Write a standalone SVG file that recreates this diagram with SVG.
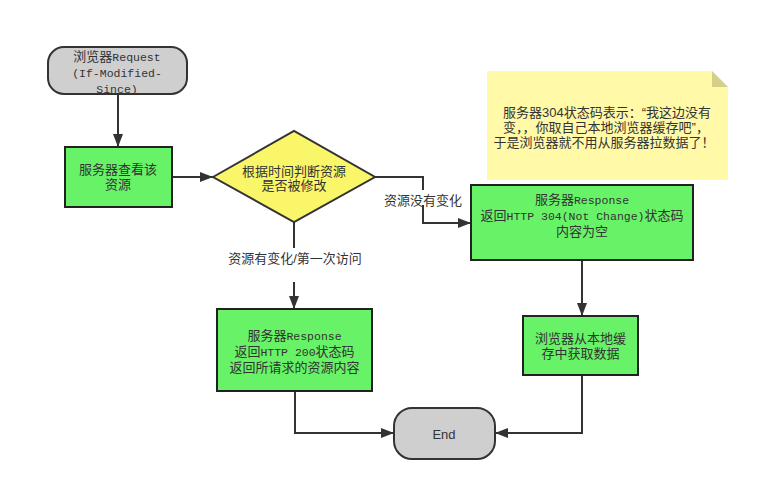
<svg xmlns="http://www.w3.org/2000/svg" width="761" height="490" viewBox="0 0 761 490">
<defs>
<marker id="arr" markerUnits="userSpaceOnUse" markerWidth="14" markerHeight="12" refX="13" refY="5" orient="auto">
<path d="M0,0 L13,5 L0,10 z" fill="#333"/>
</marker>
<style>
.ln{fill:none;stroke:#333;stroke-width:2;}
.box{fill:#68F268;stroke:#222;stroke-width:2;}
.term{fill:#CFCFCF;stroke:#333;stroke-width:2;}
.dia{fill:#FAF66A;stroke:#333;stroke-width:2;}
.st{font-family:"Liberation Mono","Noto Sans CJK SC",monospace;font-size:13px;fill:#333;text-anchor:middle;}
.st .l{font-size:11.5px;}
.sa{font-family:"Liberation Sans","Noto Sans CJK SC",sans-serif;font-size:13px;fill:#333;text-anchor:middle;}
.bg{fill:#fff;}
</style>
</defs>
<rect width="761" height="490" fill="#fff"/>
<g id="note">
<path d="M487,71 L712,71 L728,87 L728,180 L487,180 z" fill="#FFF9A8"/>
<path d="M712,71 L728,87 L712,87 z" fill="#D6CF8C"/>
<text class="sa" x="607" y="116.5">服务器304状态码表示：“我这边没有</text>
<text class="sa" x="606" y="131.5">变，，你取自己本地浏览器缓存吧”，</text>
<text class="sa" x="604" y="146.5">于是浏览器就不用从服务器拉数据了！</text>
</g>
<g id="connectors">
<path class="ln" d="M118,95 L118,147" marker-end="url(#arr)"/>
<path class="ln" d="M172,177 L213,177" marker-end="url(#arr)"/>
<path class="ln" d="M375,177 L423,177 L423,223 L471,223" marker-end="url(#arr)"/>
<path class="ln" d="M294,222 L294,309" marker-end="url(#arr)"/>
<path class="ln" d="M582,260 L582,316" marker-end="url(#arr)"/>
<path class="ln" d="M582,375 L582,433 L495,433" marker-end="url(#arr)"/>
<path class="ln" d="M295,391 L295,433 L394,433" marker-end="url(#arr)"/>
<rect class="bg" x="382" y="190" width="82" height="15"/>
<text class="sa" x="423" y="204.5">资源没有变化</text>
<rect class="bg" x="224" y="248" width="142" height="34"/>
<text class="sa" x="295" y="262.5">资源有变化/第一次访问</text>
</g>
<g id="start">
<rect class="term" x="48" y="47" width="139" height="47" rx="16" ry="16"/>
<text class="st" x="117" y="60.5">浏览器<tspan class="l">Request</tspan></text>
<text class="st" x="117" y="77"><tspan class="l">(If-Modified-</tspan></text>
<text class="st" x="117" y="92.5"><tspan class="l">Since)</tspan></text>
</g>
<g id="check">
<rect class="box" x="65" y="147" width="107" height="60"/>
<text class="st" x="118" y="173.5">服务器查看该</text>
<text class="st" x="118" y="188.5">资源</text>
</g>
<g id="decision">
<path class="dia" d="M213,177 L294,131 L375,177 L294,222 z"/>
<text class="st" x="294" y="175.5">根据时间判断资源</text>
<text class="st" x="294" y="189.5">是否被修改</text>
</g>
<g id="resp304">
<rect class="box" x="471" y="185" width="222" height="75"/>
<text class="st" x="582" y="203.5">服务器<tspan class="l">Response</tspan></text>
<text class="st" x="582" y="219.5">返回<tspan class="l">HTTP 304(Not Change)</tspan>状态码</text>
<text class="st" x="582" y="236">内容为空</text>
</g>
<g id="cache">
<rect class="box" x="523" y="316" width="115" height="59"/>
<text class="st" x="580.5" y="342.5">浏览器从本地缓</text>
<text class="st" x="580.5" y="357.5">存中获取数据</text>
</g>
<g id="resp200">
<rect class="box" x="217" y="309" width="155" height="82"/>
<text class="st" x="294.5" y="339.5">服务器<tspan class="l">Response</tspan></text>
<text class="st" x="294.5" y="355.5">返回<tspan class="l">HTTP 200</tspan>状态码</text>
<text class="st" x="294.5" y="371.5">返回所请求的资源内容</text>
</g>
<g id="end">
<rect class="term" x="394" y="408" width="101" height="51" rx="18" ry="18"/>
<text class="sa" x="444" y="438.5">End</text>
</g>
</svg>
